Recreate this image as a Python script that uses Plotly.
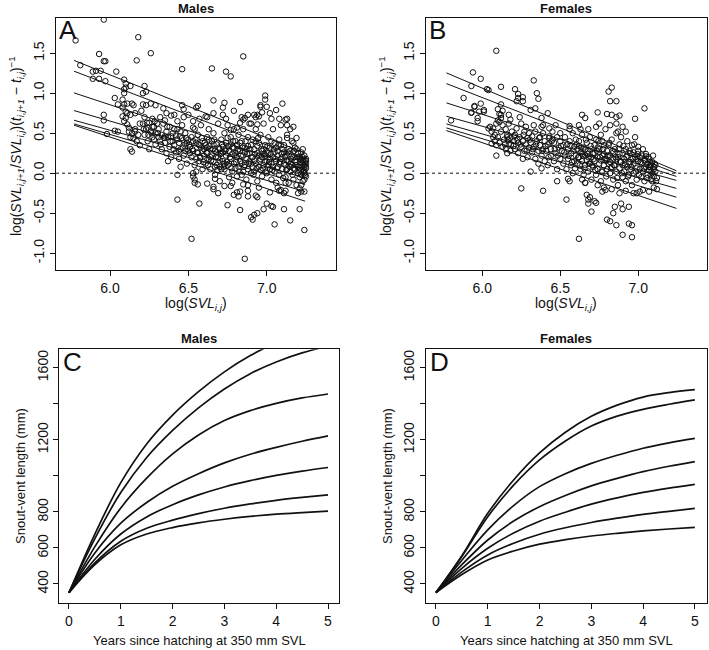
import plotly.graph_objects as go

W, H = 709, 650
FONT = "Liberation Sans, Arial, Helvetica, sans-serif"
INK = "#111111"

# ---------------- data ----------------
# Panel A (males): log(SVL) vs. annual log growth rate
males_pts = [
    # sparse left / outliers
    (5.78, 1.66), (5.96, 1.92), (5.81, 1.35), (5.93, 1.49), (5.97, 1.40), (5.96, 1.40),
    (5.89, 1.27), (5.91, 1.28), (5.94, 1.28), (5.89, 1.18), (5.93, 1.18), (5.97, 1.15),
    (6.04, 1.27), (6.18, 1.70), (6.17, 1.41), (6.26, 1.50), (6.46, 1.30), (6.65, 1.31),
    (6.74, 1.27), (6.77, 1.21), (6.85, 1.46), (5.96, 0.73), (5.96, 0.66), (5.98, 0.49),
    (6.03, 0.53), (6.05, 0.52), (6.13, 0.30), (6.14, 0.27),
    (6.09, 1.17), (6.10, 1.12), (6.09, 1.05), (6.09, 1.00), (6.10, 1.07), (6.13, 1.09),
    (6.22, 1.09), (6.23, 1.02), (6.21, 1.00), (6.03, 0.94), (6.05, 0.86), (6.08, 0.92),
    (6.09, 0.86), (6.11, 0.87), (6.14, 0.87), (6.15, 0.85), (6.08, 0.82), (6.10, 0.77),
    (6.11, 0.75), (6.13, 0.73), (6.16, 0.75), (6.08, 0.71), (6.10, 0.69), (6.09, 0.65),
    (6.11, 0.61), (6.12, 0.57), (6.21, 0.86), (6.23, 0.85), (6.26, 0.87), (6.29, 0.85),
    (6.34, 0.81), (6.36, 0.75), (6.41, 0.73), (6.46, 0.85), (6.47, 0.80), (6.50, 0.73),
    (6.14, 0.50), (6.16, 0.52), (6.15, 0.44), (6.12, 0.52), (6.13, 0.45), (6.16, 0.55),
    (6.18, 0.48), (6.19, 0.62), (6.17, 0.40), (6.19, 0.35), (6.20, 0.78),
    # upper right scatter
    (6.99, 0.97), (6.99, 0.92), (7.00, 0.83), (6.96, 0.83), (7.06, 0.79), (7.10, 0.87),
    (6.94, 0.73), (6.92, 0.73), (6.83, 0.63), (6.86, 0.69), (6.77, 0.54), (6.66, 0.91),
    (6.73, 0.88), (6.72, 0.82), (6.83, 0.89), (6.79, 0.78), (6.72, 0.73), (6.96, 0.85),
    (7.02, 0.75), (7.08, 0.68), (7.13, 0.68), (7.15, 0.55), (7.13, 0.60), (7.13, 0.44),
    (6.88, 0.73), (6.90, 0.62), (6.95, 0.71), (6.94, 0.61), (6.85, 0.67), (6.81, 0.57),
    (6.61, 0.71), (6.56, 0.84), (6.55, 0.82), (6.53, 0.57), (7.12, 0.67), (7.17, 0.58),
    (7.19, 0.44), (7.17, 0.38), (7.21, 0.21), (7.23, 0.17), (7.24, 0.08),
    # lower scatter
    (6.43, -0.33), (6.57, -0.38), (6.52, -0.82), (6.75, -0.40), (6.83, -0.46),
    (6.90, -0.55), (6.91, -0.58), (6.94, -0.50), (7.00, -0.38), (7.03, -0.41),
    (7.05, -0.64), (7.11, -0.45), (7.15, -0.59), (7.21, -0.45), (7.24, -0.71),
    (6.86, -1.07), (7.04, -0.42), (6.98, -0.45), (6.88, -0.29), (6.93, -0.28),
    (6.82, -0.29), (6.79, -0.27), (6.69, -0.25), (6.66, -0.17), (6.53, 0.00),
    (6.53, -0.04), (6.54, -0.08), (6.54, -0.12), (6.43, -0.02), (6.94, -0.30),
    (6.81, -0.24), (6.83, -0.23), (6.77, -0.16), (6.66, -0.20), (6.62, -0.13),
    (6.67, -0.07), (6.70, -0.10), (6.73, -0.16), (6.85, -0.14), (6.88, -0.22),
    (7.02, -0.24), (7.08, -0.22), (7.12, -0.22), (7.21, -0.19), (7.24, -0.23),
    (7.22, -0.23), (7.20, -0.25), (7.12, -0.12), (7.09, -0.21), (7.11, -0.25),
    (6.56, -0.14), (6.92, -0.52),
    # dense band
    (6.21, 0.62), (6.22, 0.48), (6.23, 0.55), (6.24, 0.40), (6.22, 0.70), (6.25, 0.63),
    (6.26, 0.52), (6.27, 0.45), (6.28, 0.58), (6.29, 0.36), (6.25, 0.30), (6.27, 0.68),
    (6.29, 0.50), (6.30, 0.62), (6.24, 0.57), (6.28, 0.42),
    (6.31, 0.55), (6.32, 0.41), (6.33, 0.48), (6.33, 0.30), (6.34, 0.62), (6.35, 0.38),
    (6.36, 0.52), (6.36, 0.25), (6.37, 0.45), (6.38, 0.58), (6.38, 0.33), (6.39, 0.20),
    (6.40, 0.50), (6.40, 0.40), (6.32, 0.70), (6.35, 0.66), (6.39, 0.72), (6.37, 0.15),
    (6.41, 0.35), (6.42, 0.47), (6.42, 0.26), (6.43, 0.55), (6.44, 0.38), (6.44, 0.18),
    (6.45, 0.30), (6.46, 0.44), (6.46, 0.60), (6.47, 0.22), (6.48, 0.36), (6.48, 0.50),
    (6.49, 0.12), (6.50, 0.28), (6.50, 0.42), (6.43, 0.65), (6.47, 0.70), (6.45, 0.08),
    (6.51, 0.33), (6.52, 0.20), (6.52, 0.45), (6.53, 0.28), (6.54, 0.55), (6.54, 0.10),
    (6.55, 0.38), (6.56, 0.25), (6.56, 0.48), (6.57, 0.15), (6.58, 0.32), (6.58, 0.60),
    (6.59, 0.05), (6.59, 0.40), (6.60, 0.22), (6.60, 0.30), (6.53, 0.65), (6.57, 0.68),
    (6.55, 0.02),
    (6.61, 0.35), (6.61, 0.12), (6.62, 0.25), (6.62, 0.45), (6.63, 0.18), (6.63, 0.55),
    (6.64, 0.30), (6.64, 0.05), (6.65, 0.40), (6.65, 0.22), (6.66, 0.15), (6.66, 0.50),
    (6.67, 0.28), (6.67, -0.02), (6.68, 0.36), (6.68, 0.10), (6.69, 0.20), (6.69, 0.62),
    (6.70, 0.30), (6.70, 0.08), (6.62, 0.70), (6.66, 0.75),
    (6.71, 0.25), (6.71, 0.42), (6.72, 0.15), (6.72, 0.33), (6.73, 0.05), (6.73, 0.50),
    (6.74, 0.22), (6.74, 0.38), (6.75, 0.10), (6.75, 0.60), (6.76, 0.28), (6.76, -0.05),
    (6.77, 0.18), (6.77, 0.45), (6.78, 0.02), (6.78, 0.32), (6.79, 0.12), (6.79, 0.55),
    (6.80, 0.25), (6.80, 0.40), (6.74, 0.68), (6.78, -0.12),
    (6.81, 0.20), (6.81, 0.35), (6.82, 0.08), (6.82, 0.48), (6.83, 0.15), (6.83, 0.28),
    (6.84, -0.02), (6.84, 0.40), (6.85, 0.22), (6.85, 0.55), (6.86, 0.10), (6.86, 0.32),
    (6.87, -0.08), (6.87, 0.18), (6.88, 0.45), (6.88, 0.05), (6.89, 0.25), (6.89, 0.62),
    (6.90, 0.12), (6.90, 0.35), (6.84, 0.70), (6.88, -0.15),
    (6.91, 0.20), (6.91, 0.42), (6.92, 0.02), (6.92, 0.30), (6.93, 0.12), (6.93, 0.55),
    (6.94, 0.25), (6.94, -0.10), (6.95, 0.38), (6.95, 0.08), (6.96, 0.18), (6.96, 0.48),
    (6.97, -0.04), (6.97, 0.28), (6.98, 0.10), (6.98, 0.62), (6.99, 0.22), (6.99, 0.35),
    (7.00, 0.00), (7.00, 0.15), (6.93, 0.70), (6.97, 0.76), (6.95, -0.18),
    (7.01, 0.25), (7.01, 0.45), (7.02, 0.05), (7.02, 0.32), (7.03, 0.12), (7.03, -0.08),
    (7.04, 0.20), (7.04, 0.55), (7.05, 0.02), (7.05, 0.38), (7.06, 0.15), (7.06, -0.12),
    (7.07, 0.28), (7.07, 0.08), (7.08, 0.42), (7.08, -0.02), (7.09, 0.18), (7.09, 0.60),
    (7.10, 0.05), (7.10, 0.30), (7.03, 0.68), (7.07, -0.18),
    (7.11, 0.12), (7.11, 0.35), (7.12, -0.05), (7.12, 0.22), (7.13, 0.05), (7.13, 0.48),
    (7.14, 0.15), (7.14, -0.12), (7.15, 0.28), (7.15, 0.02), (7.16, 0.10), (7.16, 0.40),
    (7.17, -0.08), (7.17, 0.20), (7.18, 0.05), (7.18, 0.32), (7.19, 0.14), (7.19, -0.15),
    (7.20, 0.00), (7.20, 0.25),
    (7.21, 0.10), (7.21, -0.05), (7.22, 0.18), (7.22, 0.04), (7.23, -0.10), (7.23, 0.12),
    (7.24, 0.02), (7.24, 0.22), (7.25, -0.04), (7.25, 0.08), (7.25, 0.15), (7.24, 0.00),
    (7.25, 0.06), (7.24, -0.08), (7.25, 0.12), (7.23, 0.02), (7.25, 0.18), (7.22, -0.02),
    (7.23, 0.20), (7.22, -0.15),
    (6.62, 0.32), (6.64, 0.20), (6.66, 0.36), (6.68, 0.26), (6.70, 0.16), (6.72, 0.26),
    (6.74, 0.30), (6.76, 0.12), (6.78, 0.24), (6.80, 0.06), (6.82, 0.30), (6.84, 0.12),
    (6.86, 0.26), (6.88, 0.34), (6.90, 0.00), (6.92, 0.16), (6.94, 0.34), (6.96, 0.04),
    (6.98, 0.30), (7.00, 0.26), (7.02, 0.18), (7.04, 0.08), (7.06, 0.32), (7.08, 0.12),
    (7.10, 0.20), (7.12, 0.10), (7.14, 0.30), (7.16, 0.22), (7.18, 0.16), (7.20, 0.08),
    (7.22, 0.26), (7.24, 0.10), (6.63, 0.42), (6.67, 0.08), (6.71, 0.05), (6.75, 0.44),
    (6.79, 0.32), (6.83, 0.38), (6.87, 0.30), (6.91, 0.08), (6.95, 0.22), (6.99, 0.14),
    (7.03, 0.40), (7.07, 0.22), (7.11, 0.26), (7.15, 0.12), (7.19, 0.30), (7.23, 0.30),
    (6.73, 0.12), (6.77, 0.36), (6.81, -0.04), (6.85, 0.02), (6.89, 0.15), (6.93, 0.40),
    (6.97, 0.20), (7.01, 0.10), (7.05, 0.26), (7.09, 0.35), (7.13, 0.16), (7.17, 0.06),
    (7.21, 0.18), (7.25, 0.16), (6.45, 0.52), (6.49, 0.38), (6.53, 0.40), (6.57, 0.35),
    (6.41, 0.55), (6.39, 0.46), (6.35, 0.46), (6.31, 0.45), (6.27, 0.58), (6.51, 0.25),
    (6.55, 0.18), (6.59, 0.28), (6.44, 0.28), (6.48, 0.28),
    (6.555, 0.26), (6.565, 0.36), (6.575, 0.20), (6.585, 0.44), (6.595, 0.14), (6.605, 0.38),
    (6.615, 0.26), (6.625, 0.10), (6.635, 0.34), (6.645, 0.16), (6.655, 0.30), (6.665, 0.42),
    (6.675, 0.20), (6.685, 0.04), (6.695, 0.32), (6.705, 0.24), (6.715, 0.36), (6.725, 0.08),
    (6.735, 0.28), (6.745, 0.14), (6.755, 0.34), (6.765, 0.20), (6.775, 0.06), (6.785, 0.40),
    (6.795, 0.22), (6.805, 0.14), (6.815, 0.28), (6.825, 0.02), (6.835, 0.22), (6.845, 0.32),
    (6.855, 0.08), (6.865, 0.40), (6.875, 0.24), (6.885, 0.12), (6.895, 0.30), (6.905, 0.20),
    (6.915, -0.02), (6.925, 0.24), (6.935, 0.06), (6.945, 0.44), (6.955, 0.16), (6.965, 0.30),
    (6.975, 0.06), (6.985, 0.24), (6.995, 0.02), (7.005, 0.34), (7.015, 0.14), (7.025, 0.24),
    (7.035, 0.04), (7.045, 0.30), (7.055, 0.18), (7.065, 0.06), (7.075, 0.36), (7.085, 0.14),
    (7.095, 0.24), (7.105, -0.06), (7.115, 0.20), (7.125, 0.04), (7.135, 0.26), (7.145, 0.08),
    (7.155, 0.18), (7.165, -0.02), (7.175, 0.28), (7.185, 0.10), (7.195, 0.20), (7.205, 0.04),
    (7.215, 0.14), (7.225, 0.08), (7.235, 0.16), (7.245, -0.02),
    (6.305, 0.50), (6.325, 0.36), (6.345, 0.44), (6.365, 0.58), (6.385, 0.40), (6.405, 0.30),
    (6.425, 0.42), (6.445, 0.46), (6.465, 0.32), (6.485, 0.44), (6.505, 0.36), (6.525, 0.30),
    (6.545, 0.42), (6.265, 0.50), (6.245, 0.48), (6.285, 0.65), (6.215, 0.55), (6.235, 0.63),
]

# Panel B (females)
females_pts = [
    # sparse left / outliers
    (6.09, 1.53), (5.94, 1.26), (5.93, 1.09), (5.99, 1.18), (5.88, 0.94), (5.80, 0.66),
    (5.95, 0.83), (5.93, 0.76), (5.98, 0.77), (5.97, 0.69), (5.97, 0.65), (6.01, 0.79),
    (6.03, 1.05), (6.05, 0.58), (6.04, 0.56), (6.06, 0.37), (6.09, 0.22), (6.12, 1.08),
    (6.21, 1.05), (6.23, 0.99), (6.23, 0.94), (6.22, 0.90), (6.26, 0.95), (6.26, 0.90),
    (6.33, 1.16), (6.35, 1.00), (6.36, 0.93), (6.31, 0.79), (6.34, 0.81), (6.42, 0.75),
    (6.38, 0.69), (6.39, 0.60), (6.12, 0.73), (6.12, 0.69), (6.17, 0.73), (6.18, 0.67),
    (6.16, 0.45), (5.93, 0.755), (5.95, 0.84), (5.99, 0.87), (6.01, 0.77), (6.04, 1.04),
    (6.07, 0.56), (6.08, 0.48), (6.09, 0.62), (6.10, 0.66), (6.08, 0.40), (6.09, 0.35),
    (6.07, 0.45), (6.06, 0.52), (6.11, 0.74), (6.10, 0.80), (6.12, 0.86), (6.13, 0.78),
    # lower scatter
    (6.25, -0.19), (6.39, -0.22), (6.31, 0.02), (6.38, 0.06), (6.48, -0.10),
    (6.54, -0.33), (6.62, -0.82), (6.55, -0.07), (6.56, -0.10), (6.64, -0.08),
    (6.66, -0.12), (6.67, -0.27), (6.68, -0.33), (6.69, -0.30), (6.68, -0.38),
    (6.70, -0.48), (6.72, -0.35), (6.73, -0.37), (6.77, -0.23), (6.79, -0.21),
    (6.80, -0.58), (6.82, -0.60), (6.84, -0.50), (6.85, -0.42), (6.86, -0.65),
    (6.89, -0.38), (6.90, -0.45), (6.94, -0.63), (6.90, -0.77), (6.94, -0.42),
    (6.96, -0.65), (6.96, -0.80), (6.99, -0.25), (7.01, -0.23), (7.03, -0.21),
    (7.07, -0.23), (7.09, -0.10), (7.08, -0.02), (7.07, 0.08),
    # upper right scatter
    (6.81, 1.02), (6.83, 1.07), (6.82, 0.90), (6.86, 0.90), (6.74, 0.76), (6.80, 0.74),
    (6.83, 0.73), (6.86, 0.70), (6.88, 0.72), (6.98, 0.68), (7.04, 0.81), (6.90, 0.58),
    (6.92, 0.52), (6.87, 0.52), (6.64, 0.73), (6.66, 0.69), (6.73, 0.58), (6.75, 0.62),
    (6.62, 0.60), (6.56, 0.59), (6.50, 0.50), (6.43, 0.46), (6.45, 0.42), (7.00, 0.33),
    (7.05, 0.21), (7.08, 0.12), (7.10, 0.08),
    # dense band
    (6.10, 0.45), (6.11, 0.38), (6.12, 0.52), (6.13, 0.33), (6.13, 0.60), (6.14, 0.42),
    (6.15, 0.30), (6.15, 0.55), (6.16, 0.48), (6.17, 0.36), (6.17, 0.62), (6.18, 0.28),
    (6.18, 0.44), (6.19, 0.52), (6.20, 0.34), (6.20, 0.40), (6.11, 0.64), (6.16, 0.25),
    (6.21, 0.48), (6.21, 0.30), (6.22, 0.56), (6.23, 0.38), (6.23, 0.25), (6.24, 0.45),
    (6.25, 0.62), (6.25, 0.33), (6.26, 0.40), (6.27, 0.28), (6.27, 0.52), (6.28, 0.36),
    (6.28, 0.58), (6.29, 0.20), (6.29, 0.44), (6.30, 0.32), (6.30, 0.50), (6.24, 0.70),
    (6.26, 0.18),
    (6.31, 0.38), (6.32, 0.26), (6.32, 0.46), (6.33, 0.33), (6.34, 0.18), (6.34, 0.52),
    (6.35, 0.40), (6.36, 0.28), (6.36, 0.12), (6.37, 0.45), (6.37, 0.35), (6.38, 0.22),
    (6.39, 0.50), (6.39, 0.30), (6.40, 0.40), (6.40, 0.15), (6.33, 0.60), (6.38, 0.58),
    (6.41, 0.28), (6.42, 0.36), (6.42, 0.10), (6.43, 0.44), (6.44, 0.22), (6.44, 0.30),
    (6.45, 0.52), (6.46, 0.15), (6.46, 0.38), (6.47, 0.25), (6.48, 0.45), (6.48, 0.05),
    (6.49, 0.32), (6.50, 0.18), (6.50, 0.40), (6.43, 0.56), (6.47, 0.60),
    (6.51, 0.28), (6.52, 0.12), (6.52, 0.35), (6.53, 0.22), (6.53, 0.45), (6.54, 0.05),
    (6.55, 0.30), (6.55, 0.18), (6.56, 0.40), (6.57, 0.10), (6.57, 0.25), (6.58, 0.50),
    (6.58, 0.00), (6.59, 0.33), (6.59, 0.15), (6.60, 0.22), (6.60, 0.42), (6.56, 0.55),
    (6.61, 0.12), (6.61, 0.30), (6.62, 0.20), (6.62, 0.40), (6.63, 0.05), (6.63, 0.26),
    (6.64, 0.15), (6.64, 0.48), (6.65, 0.32), (6.65, -0.02), (6.66, 0.22), (6.66, 0.10),
    (6.67, 0.38), (6.67, 0.16), (6.68, 0.02), (6.68, 0.28), (6.69, 0.12), (6.69, 0.45),
    (6.70, 0.20), (6.70, -0.08), (6.63, 0.55), (6.68, 0.55), (6.66, -0.12), (6.62, 0.34),
    (6.64, 0.24), (6.66, 0.30), (6.68, 0.20), (6.70, 0.30),
    (6.71, 0.25), (6.71, 0.08), (6.72, 0.35), (6.72, 0.15), (6.73, -0.02), (6.73, 0.42),
    (6.74, 0.20), (6.74, 0.05), (6.75, 0.30), (6.75, 0.12), (6.76, 0.48), (6.76, -0.10),
    (6.77, 0.22), (6.77, 0.02), (6.78, 0.35), (6.78, 0.10), (6.79, 0.18), (6.79, 0.55),
    (6.80, 0.05), (6.80, 0.28), (6.74, -0.15), (6.78, -0.18), (6.72, 0.25), (6.74, 0.32),
    (6.76, 0.16), (6.78, 0.24), (6.80, 0.16), (6.77, 0.40),
    (6.81, 0.12), (6.81, 0.35), (6.82, 0.00), (6.82, 0.22), (6.83, 0.42), (6.83, 0.08),
    (6.84, 0.18), (6.84, -0.08), (6.85, 0.30), (6.85, 0.10), (6.86, 0.50), (6.86, 0.02),
    (6.87, 0.20), (6.87, -0.15), (6.88, 0.36), (6.88, 0.06), (6.89, 0.14), (6.89, 0.45),
    (6.90, -0.05), (6.90, 0.25), (6.82, 0.60), (6.86, 0.62), (6.88, -0.25), (6.82, 0.14),
    (6.84, 0.26), (6.86, 0.18), (6.88, 0.24), (6.90, 0.10), (6.83, -0.20),
    (6.91, 0.18), (6.91, 0.02), (6.92, 0.30), (6.92, -0.10), (6.93, 0.08), (6.93, 0.40),
    (6.94, 0.14), (6.94, -0.02), (6.95, 0.25), (6.95, 0.05), (6.96, 0.35), (6.96, -0.15),
    (6.97, 0.12), (6.97, 0.00), (6.98, 0.20), (6.98, 0.45), (6.99, 0.06), (6.99, -0.08),
    (7.00, 0.15), (7.00, 0.28), (6.93, 0.22), (6.95, 0.14), (6.97, 0.26), (6.99, 0.18),
    (6.92, -0.22), (6.97, -0.25),
    (7.01, 0.05), (7.01, 0.20), (7.02, -0.05), (7.02, 0.12), (7.03, 0.30), (7.03, 0.02),
    (7.04, 0.16), (7.04, -0.10), (7.05, 0.08), (7.05, 0.24), (7.06, -0.02), (7.06, 0.12),
    (7.07, 0.04), (7.07, 0.18), (7.08, -0.08), (7.08, 0.10), (7.09, 0.00), (7.09, 0.14),
    (7.10, 0.05), (7.10, -0.04), (7.11, 0.02), (7.12, -0.06), (7.11, 0.10), (7.12, -0.20),
    (7.10, -0.18),
    (6.555, 0.22), (6.565, 0.34), (6.575, 0.14), (6.585, 0.28), (6.595, 0.06), (6.605, 0.36),
    (6.615, 0.20), (6.625, 0.10), (6.635, 0.32), (6.645, 0.22), (6.655, 0.06), (6.665, 0.42),
    (6.675, 0.24), (6.685, 0.12), (6.695, 0.34), (6.705, 0.10), (6.715, 0.18), (6.725, 0.04),
    (6.735, 0.28), (6.745, 0.40), (6.755, 0.20), (6.765, 0.02), (6.775, 0.30), (6.785, 0.16),
    (6.795, -0.04), (6.805, 0.22), (6.815, 0.38), (6.825, 0.06), (6.835, 0.28), (6.845, 0.10),
    (6.855, 0.20), (6.865, -0.06), (6.875, 0.30), (6.885, 0.14), (6.895, 0.00), (6.905, 0.34),
    (6.915, 0.10), (6.925, 0.20), (6.935, -0.04), (6.945, 0.28), (6.955, 0.08), (6.965, 0.18),
    (6.975, 0.36), (6.985, 0.02), (6.995, 0.24), (7.005, -0.02), (7.015, 0.14), (7.025, 0.22),
    (7.035, 0.06), (7.045, 0.16), (7.055, -0.06), (7.065, 0.20), (7.075, 0.08), (7.085, 0.02),
    (7.095, 0.22), (7.105, 0.12), (7.115, -0.10),
    (6.305, 0.42), (6.325, 0.30), (6.345, 0.36), (6.365, 0.44), (6.385, 0.28), (6.405, 0.34),
    (6.425, 0.20), (6.445, 0.40), (6.465, 0.30), (6.485, 0.22), (6.505, 0.34), (6.525, 0.26),
    (6.545, 0.36), (6.145, 0.36), (6.165, 0.42), (6.185, 0.36), (6.205, 0.46), (6.225, 0.42),
    (6.245, 0.36), (6.265, 0.48), (6.285, 0.28),
]

# Fitted lines (7 per sex), value at the left and right ends of the log(SVL) range
line_log_svl = [5.77, 7.245]
males_line_left = [1.41, 1.275, 1.004, 0.783, 0.662, 0.616, 0.600]
males_line_right = [0.25, 0.17, 0.05, -0.06, -0.14, -0.23, -0.35]
females_line_left = [1.254, 1.12, 0.879, 0.712, 0.616, 0.566, 0.533]
females_line_right = [0.03, 0.00, -0.04, -0.09, -0.19, -0.30, -0.44]

# Growth curves (SVL in mm) read at half-year steps
years = [0, 0.5, 1, 1.5, 2, 2.5, 3, 3.5, 4, 4.5, 5]
males_svl = [
    [352, 677, 962, 1177, 1337, 1467, 1577, 1667, 1739, 1797, 1843],
    [352, 652, 907, 1102, 1252, 1377, 1482, 1567, 1632, 1682, 1720],
    [352, 607, 822, 987, 1122, 1227, 1307, 1362, 1402, 1432, 1454],
    [352, 572, 737, 852, 942, 1012, 1072, 1120, 1158, 1192, 1222],
    [352, 537, 677, 772, 840, 894, 938, 973, 1002, 1026, 1046],
    [352, 517, 637, 709, 754, 790, 820, 844, 864, 880, 894],
    [352, 507, 617, 677, 713, 739, 759, 775, 787, 796, 804],
]
females_svl = [
    [352, 557, 792, 977, 1127, 1242, 1330, 1392, 1437, 1462, 1478],
    [352, 552, 773, 948, 1088, 1193, 1276, 1331, 1369, 1397, 1421],
    [352, 532, 700, 835, 940, 1012, 1069, 1114, 1153, 1183, 1208],
    [352, 507, 644, 749, 829, 891, 944, 986, 1023, 1053, 1079],
    [352, 487, 598, 683, 748, 798, 843, 878, 908, 932, 953],
    [352, 467, 561, 626, 676, 712, 741, 765, 786, 803, 819],
    [352, 452, 533, 583, 621, 646, 666, 681, 694, 705, 714],
]

rate_ticks = [-1.0, -0.5, 0.0, 0.5, 1.0, 1.5]
rate_ticktext = ["-1.0", "-0.5", "0.0", "0.5", "1.0", "1.5"]
logsvl_ticks = [6.0, 6.5, 7.0]
year_ticks = [0, 1, 2, 3, 4, 5]
svl_ticks = [400, 600, 800, 1000, 1200, 1400, 1600]
svl_ticktext = ["400", "600", "800", "", "1200", "", "1600"]

# ---------------- figure ----------------
def px_x(p):
    return p / W

def px_y(p):
    return 1 - p / H

fig = go.Figure()

def add_scatter(pts, xa, ya):
    fig.add_trace(go.Scatter(
        x=[p[0] for p in pts], y=[p[1] for p in pts], mode="markers",
        marker=dict(symbol="circle-open", size=5.5, color=INK, line=dict(width=1, color=INK)),
        xaxis=xa, yaxis=ya, showlegend=False, hoverinfo="skip"))

def add_lines(left, right, xa, ya):
    for a, b in zip(left, right):
        fig.add_trace(go.Scatter(
            x=line_log_svl, y=[a, b], mode="lines",
            line=dict(color=INK, width=1), xaxis=xa, yaxis=ya,
            showlegend=False, hoverinfo="skip"))

def add_curves(curves, xa, ya):
    for c in curves:
        fig.add_trace(go.Scatter(
            x=years, y=c, mode="lines", line=dict(color=INK, width=1.7, shape="spline", smoothing=1.0),
            xaxis=xa, yaxis=ya, showlegend=False, hoverinfo="skip"))

add_scatter(males_pts, "x", "y")
add_lines(males_line_left, males_line_right, "x", "y")
add_scatter(females_pts, "x2", "y2")
add_lines(females_line_left, females_line_right, "x2", "y2")
add_curves(males_svl, "x3", "y3")
add_curves(females_svl, "x4", "y4")

axis_common = dict(
    showline=True, mirror=True, linecolor=INK, linewidth=1,
    ticks="outside", ticklen=5, tickwidth=1, tickcolor=INK,
    showgrid=False, zeroline=False,
    tickfont=dict(family=FONT, size=14, color=INK),
)

# pixel boxes of the four panels
boxes = {
    "A": (56, 336, 18, 270),
    "B": (426, 706.5, 18, 270),
    "C": (59.3, 339.3, 349.3, 602.7),
    "D": (426, 706.5, 349.3, 602.7),
}

def dom(box):
    x0, x1, y0, y1 = box
    return [px_x(x0), px_x(x1)], [px_y(y1), px_y(y0)]

dA = dom(boxes["A"]); dB = dom(boxes["B"]); dC = dom(boxes["C"]); dD = dom(boxes["D"])

fig.update_layout(
    width=W, height=H, margin=dict(l=0, r=0, t=0, b=0),
    paper_bgcolor="white", plot_bgcolor="white",
    xaxis=dict(domain=dA[0], range=[5.655, 7.442], tickvals=logsvl_ticks,
               ticktext=["6.0", "6.5", "7.0"], anchor="y", **axis_common),
    yaxis=dict(domain=dA[1], range=[-1.21, 1.94], tickvals=rate_ticks, ticktext=rate_ticktext,
               tickangle=-90, anchor="x", **axis_common),
    xaxis2=dict(domain=dB[0], range=[5.639, 7.438], tickvals=logsvl_ticks,
                ticktext=["6.0", "6.5", "7.0"], anchor="y2", **axis_common),
    yaxis2=dict(domain=dB[1], range=[-1.21, 1.94], tickvals=rate_ticks, ticktext=rate_ticktext,
                tickangle=-90, anchor="x2", **axis_common),
    xaxis3=dict(domain=dC[0], range=[-0.187, 5.218], tickvals=year_ticks, anchor="y3", **axis_common),
    yaxis3=dict(domain=dC[1], range=[296, 1702], tickvals=svl_ticks, ticktext=svl_ticktext,
                tickangle=-90, anchor="x3", **axis_common),
    xaxis4=dict(domain=dD[0], range=[-0.193, 5.225], tickvals=year_ticks, anchor="y4", **axis_common),
    yaxis4=dict(domain=dD[1], range=[296, 1702], tickvals=svl_ticks, ticktext=svl_ticktext,
                tickangle=-90, anchor="x4", **axis_common),
)

# dotted zero lines
for xr, yr in [("x domain", "y"), ("x2 domain", "y2")]:
    fig.add_shape(type="line", xref=xr, yref=yr, x0=0, x1=1, y0=0, y1=0,
                  line=dict(color=INK, width=1, dash="dot"), layer="above")

def ann(text, x, y, size=13, angle=0, bold=False, xanchor="center", yanchor="middle"):
    if bold:
        text = "<b>" + text + "</b>"
    fig.add_annotation(text=text, x=px_x(x), y=px_y(y), xref="paper", yref="paper",
                       showarrow=False, textangle=angle, xanchor=xanchor, yanchor=yanchor,
                       font=dict(family=FONT, size=size, color=INK))

ytitle_rate = ("log(<i>SVL</i><sub><i>i,j+1</i></sub>/<i>SVL</i><sub><i>i,j</i></sub>)"
               "(<i>t</i><sub><i>i,j+1</i></sub> \u2212 <i>t</i><sub><i>i,j</i></sub>)<sup>\u22121</sup>")
xtitle_log = "log(<i>SVL</i><sub><i>i,j</i></sub>)"

# titles
ann("Males", 196, 8, size=13, bold=True)
ann("Females", 566, 8, size=13, bold=True)
ann("Males", 199, 338, size=13, bold=True)
ann("Females", 566, 338, size=13, bold=True)

# panel letters
ann("A", 57, 30, size=26, xanchor="left")
ann("B", 427, 30, size=26, xanchor="left")
ann("C", 61, 362, size=26, xanchor="left")
ann("D", 428, 362, size=26, xanchor="left")

# axis titles
ann(ytitle_rate, 16, 146, size=14, angle=-90)
ann(ytitle_rate, 386, 146, size=14, angle=-90)
ann(xtitle_log, 196, 304, size=14)
ann(xtitle_log, 566, 304, size=14)
ann("Snout-vent length (mm)", 20, 476, size=13, angle=-90)
ann("Snout-vent length (mm)", 387, 476, size=13, angle=-90)
ann("Years since hatching at 350 mm SVL", 199, 640, size=13)
ann("Years since hatching at 350 mm SVL", 566, 640, size=13)

fig.write_html("out.html")
